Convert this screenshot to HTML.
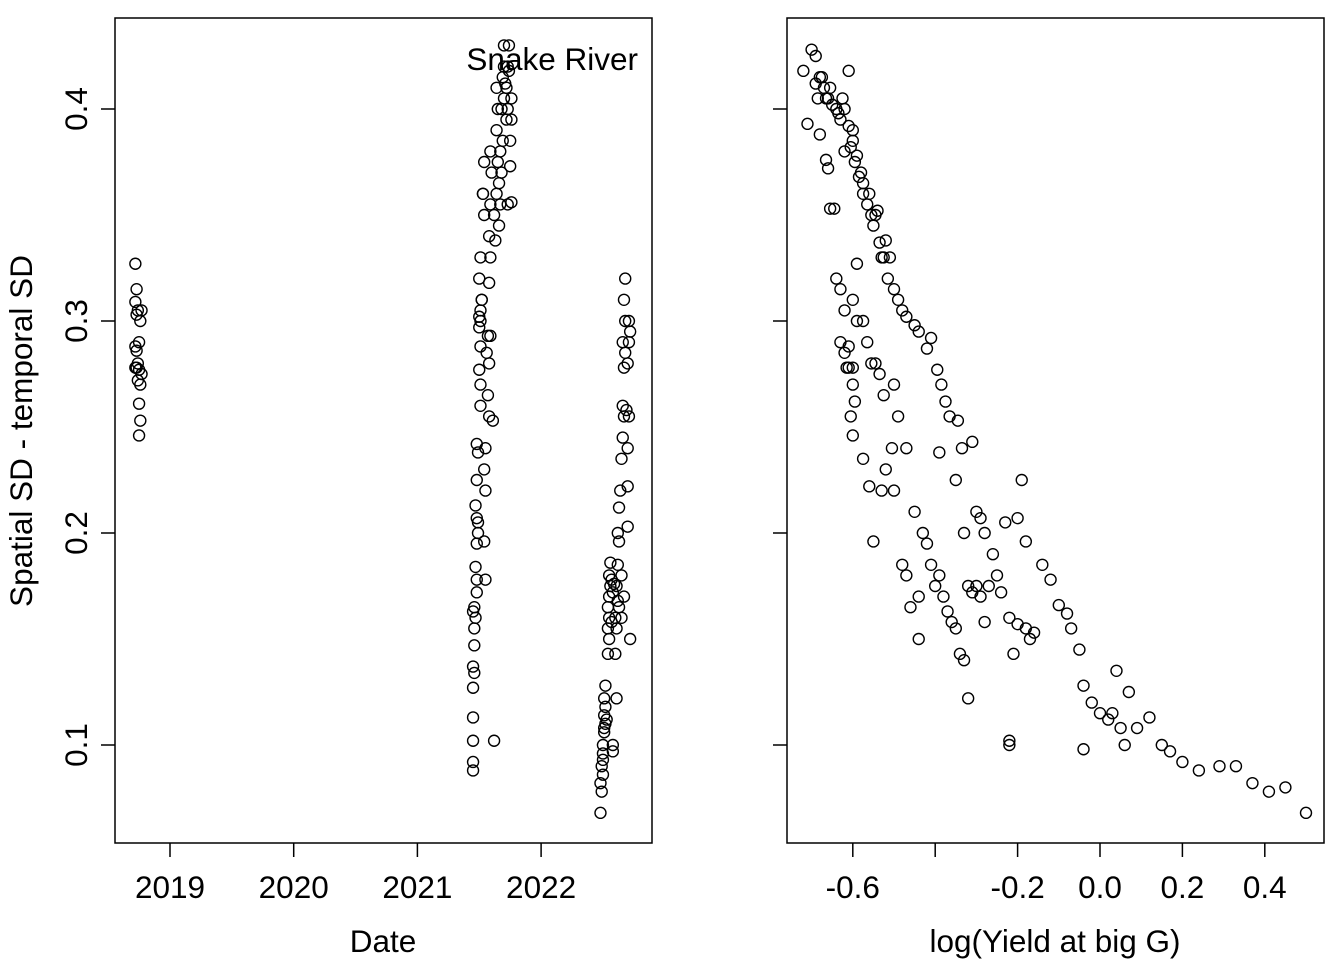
<!DOCTYPE html>
<html><head><meta charset="utf-8"><style>
body{margin:0;background:#fff}
svg text{font-family:"Liberation Sans",Arial,sans-serif;fill:#000}
</style></head><body>
<svg id="chart" width="1344" height="960" viewBox="0 0 1344 960" xmlns="http://www.w3.org/2000/svg">
<rect width="1344" height="960" fill="#fff"/>
<rect x="115" y="18" width="537" height="825" fill="none" stroke="#000" stroke-width="1.5"/>
<rect x="787" y="18" width="537" height="825" fill="none" stroke="#000" stroke-width="1.5"/>
<text x="32" y="431" font-size="31.5" text-anchor="middle" transform="rotate(-90 32 431)">Spatial SD - temporal SD</text>
<text x="383" y="952" font-size="31.5" text-anchor="middle">Date</text>
<text x="1055" y="952" font-size="31.5" text-anchor="middle">log(Yield at big G)</text>
<text x="638" y="70" font-size="31.5" text-anchor="end">Snake River</text>
<g id="axes"></g>
<g id="left-points"></g>
<g id="right-points"></g>
</svg>
<script>
const yTicks=[0.1,0.2,0.3,0.4];
const yTickLabels=["0.1","0.2","0.3","0.4"];
const dateTicks=[2019,2020,2021,2022];
const dateTickLabels=["2019","2020","2021","2022"];
const yieldTicks=[-0.6,-0.4,-0.2,0.0,0.2,0.4];
const yieldTickLabels=["-0.6","","-0.2","0.0","0.2","0.4"];
const leftDates=[2018.72,2018.73,2018.72,2018.74,2018.73,2018.76,2018.77,2018.75,2018.72,2018.73,2018.74,2018.72,2018.75,2018.77,2018.74,2018.76,2018.73,2018.75,2018.76,2018.75,
2021.45,2021.45,2021.45,2021.45,2021.45,2021.46,2021.45,2021.46,2021.46,2021.45,2021.46,
2021.48,2021.48,2021.47,2021.48,2021.49,2021.48,2021.47,2021.48,2021.49,2021.48,
2021.51,2021.51,2021.5,2021.51,2021.5,2021.51,2021.51,2021.52,2021.5,2021.51,
2021.54,2021.53,2021.54,2021.55,2021.54,2021.55,2021.54,2021.55,2021.56,2021.57,
2021.58,2021.57,2021.58,2021.59,2021.58,2021.59,2021.58,2021.59,2021.6,2021.59,
2021.62,2021.61,
2021.64,2021.65,2021.64,2021.65,2021.64,2021.66,2021.67,
2021.68,2021.69,2021.68,2021.69,2021.7,2021.7,
2021.72,2021.73,2021.72,2021.73,2021.74,2021.73,
2021.75,2021.76,2021.76,2021.75,2021.76,
2021.66,2021.67,2021.7,2021.71,2021.74,2021.63,2021.62,2021.52,2021.5,2021.49,2021.47,2021.53,
2022.48,2022.49,2022.48,2022.5,2022.49,2022.5,2022.5,2022.51,2022.52,2022.51,2022.52,2022.51,2022.52,
2022.54,2022.54,2022.55,2022.54,2022.55,2022.56,2022.55,2022.56,2022.57,2022.58,2022.58,2022.58,
2022.6,2022.61,2022.6,2022.62,2022.61,2022.62,2022.63,2022.62,2022.63,2022.64,2022.61,
2022.65,2022.66,2022.67,2022.66,2022.67,2022.68,2022.66,2022.68,2022.67,2022.68,2022.65,2022.67,
2022.7,2022.71,2022.7,2022.71,2022.72,2022.71,2022.72,2022.7,2022.7,
2022.51,2022.5,2022.53,2022.55,2022.57,2022.59,2022.63,2022.65,2022.69];
const leftSD=[0.327,0.315,0.309,0.305,0.303,0.300,0.305,0.290,0.288,0.286,0.280,0.278,0.277,0.275,0.272,0.270,0.278,0.261,0.253,0.246,
0.088,0.092,0.102,0.113,0.127,0.134,0.137,0.147,0.155,0.163,0.165,
0.172,0.178,0.184,0.195,0.200,0.207,0.213,0.225,0.238,0.242,
0.26,0.27,0.277,0.288,0.297,0.30,0.305,0.31,0.32,0.33,
0.35,0.36,0.375,0.22,0.23,0.24,0.196,0.178,0.285,0.293,
0.255,0.265,0.28,0.293,0.318,0.33,0.34,0.355,0.37,0.38,
0.102,0.253,
0.36,0.375,0.39,0.40,0.41,0.345,0.355,
0.37,0.385,0.40,0.415,0.42,0.43,
0.395,0.40,0.41,0.42,0.43,0.355,
0.385,0.395,0.405,0.373,0.356,
0.365,0.38,0.405,0.412,0.418,0.338,0.35,0.31,0.302,0.205,0.16,0.36,
0.068,0.078,0.082,0.086,0.09,0.093,0.1,0.106,0.11,0.114,0.118,0.122,0.128,
0.143,0.155,0.16,0.165,0.17,0.175,0.18,0.186,0.178,0.172,0.1,0.097,
0.143,0.155,0.16,0.168,0.175,0.185,0.196,0.2,0.212,0.22,0.122,
0.235,0.245,0.255,0.26,0.278,0.285,0.29,0.3,0.31,0.32,0.16,0.17,
0.24,0.255,0.28,0.29,0.295,0.3,0.15,0.203,0.222,
0.108,0.096,0.112,0.15,0.158,0.176,0.165,0.18,0.258];
const rightYield=[-0.72,-0.70,-0.69,-0.68,-0.67,-0.665,-0.655,-0.64,-0.63,-0.62,-0.61,-0.6,-0.605,-0.595,-0.585,-0.58,-0.575,-0.565,-0.555,-0.55,-0.545,-0.535,-0.525,-0.52,-0.515,-0.5,-0.49,-0.48,-0.47,-0.45,-0.44,-0.42,-0.41,-0.395,-0.385,-0.375,-0.365,-0.345,-0.335,-0.31,-0.3,-0.29,-0.2,-0.19,-0.18,-0.14,-0.12,-0.1,-0.08,-0.07,-0.05,-0.04,-0.02,0,0.02,0.03,0.04,0.05,0.07,0.09,0.12,0.15,0.17,0.2,0.24,0.29,0.33,0.37,0.41,0.45,0.5,-0.71,-0.68,-0.665,-0.66,-0.655,-0.645,
-0.64,-0.63,-0.62,-0.63,-0.62,-0.61,-0.6,-0.595,-0.605,-0.59,-0.6,-0.59,-0.575,-0.565,-0.555,-0.545,-0.535,-0.525,-0.5,-0.49,-0.505,-0.52,-0.53,-0.55,-0.56,-0.575,-0.6,-0.5,-0.48,-0.47,-0.44,-0.43,-0.42,-0.41,-0.4,-0.39,-0.38,-0.37,-0.36,-0.35,-0.34,-0.33,-0.32,-0.31,-0.3,-0.29,-0.28,-0.27,-0.25,-0.24,-0.22,-0.21,-0.2,-0.18,-0.16,-0.22,-0.22,-0.32,-0.44,-0.46,-0.45,-0.47,-0.39,-0.35,-0.33,-0.28,-0.26,-0.23,-0.17,-0.04,0.06,
-0.69,-0.675,-0.685,-0.66,-0.65,-0.635,-0.625,-0.61,-0.62,-0.6,-0.59,-0.575,-0.56,-0.54,-0.53,-0.51,-0.615,-0.61,-0.6];
const rightSD=[0.418,0.428,0.425,0.415,0.41,0.405,0.41,0.4,0.395,0.4,0.392,0.39,0.382,0.375,0.368,0.37,0.36,0.355,0.35,0.345,0.35,0.337,0.33,0.338,0.32,0.315,0.31,0.305,0.302,0.298,0.295,0.287,0.292,0.277,0.27,0.262,0.255,0.253,0.24,0.243,0.21,0.207,0.207,0.225,0.196,0.185,0.178,0.166,0.162,0.155,0.145,0.128,0.12,0.115,0.112,0.115,0.135,0.108,0.125,0.108,0.113,0.1,0.097,0.092,0.088,0.09,0.09,0.082,0.078,0.08,0.068,0.393,0.388,0.376,0.372,0.353,0.353,
0.32,0.315,0.305,0.29,0.285,0.278,0.27,0.262,0.255,0.3,0.31,0.327,0.3,0.29,0.28,0.28,0.275,0.265,0.27,0.255,0.24,0.23,0.22,0.196,0.222,0.235,0.246,0.22,0.185,0.18,0.17,0.2,0.195,0.185,0.175,0.18,0.17,0.163,0.158,0.155,0.143,0.14,0.175,0.172,0.175,0.17,0.158,0.175,0.18,0.172,0.16,0.143,0.157,0.155,0.153,0.1,0.102,0.122,0.15,0.165,0.21,0.24,0.238,0.225,0.2,0.2,0.19,0.205,0.15,0.098,0.1,
0.412,0.415,0.405,0.405,0.402,0.398,0.405,0.418,0.38,0.385,0.378,0.365,0.36,0.352,0.33,0.33,0.278,0.288,0.278];

const NS="http://www.w3.org/2000/svg";
const yS=v=>745-(v-0.1)*2120;
const xDate=v=>170+(v-2019)*123.7;
const xYield=v=>1100+v*412;
function mk(tag,attrs,parent,txt){const e=document.createElementNS(NS,tag);for(const k in attrs)e.setAttribute(k,attrs[k]);if(txt!==undefined)e.textContent=txt;parent.appendChild(e);return e;}
const axes=document.getElementById('axes');
yTicks.forEach((t,i)=>{
  const y=yS(t);
  const l=mk('line',{x1:101,x2:115,y1:y,y2:y,stroke:'#000','stroke-width':1.5},axes);
  
  
  const tx=mk('text',{x:87,y:y,'font-size':31.5,'text-anchor':'middle',transform:`rotate(-90 87 ${y})`},axes,yTickLabels[i]);
  
  
  const r=mk('line',{x1:773,x2:787,y1:y,y2:y,stroke:'#000','stroke-width':1.5},axes);
  
  
});
dateTicks.forEach((t,i)=>{
  const x=xDate(t);
  const l=mk('line',{x1:x,x2:x,y1:843,y2:857,stroke:'#000','stroke-width':1.5},axes);
  
  
  const tx=mk('text',{x:x,y:898,'font-size':31.5,'text-anchor':'middle'},axes,dateTickLabels[i]);
  
  
});
yieldTicks.forEach((t,i)=>{
  const x=xYield(t);
  const l=mk('line',{x1:x,x2:x,y1:843,y2:857,stroke:'#000','stroke-width':1.5},axes);
  
  
  if(yieldTickLabels[i]){
    const tx=mk('text',{x:x,y:898,'font-size':31.5,'text-anchor':'middle'},axes,yieldTickLabels[i]);
    
    
  }
});
const lp=document.getElementById('left-points');
leftDates.forEach((d,i)=>{
  const c=mk('circle',{cx:xDate(d),cy:yS(leftSD[i]),r:5.5,fill:'none',stroke:'#000','stroke-width':1.4},lp);
  
  
});
const rp=document.getElementById('right-points');
rightYield.forEach((d,i)=>{
  const c=mk('circle',{cx:xYield(d),cy:yS(rightSD[i]),r:5.5,fill:'none',stroke:'#000','stroke-width':1.4},rp);
  
  
});
</script>
</body></html>
